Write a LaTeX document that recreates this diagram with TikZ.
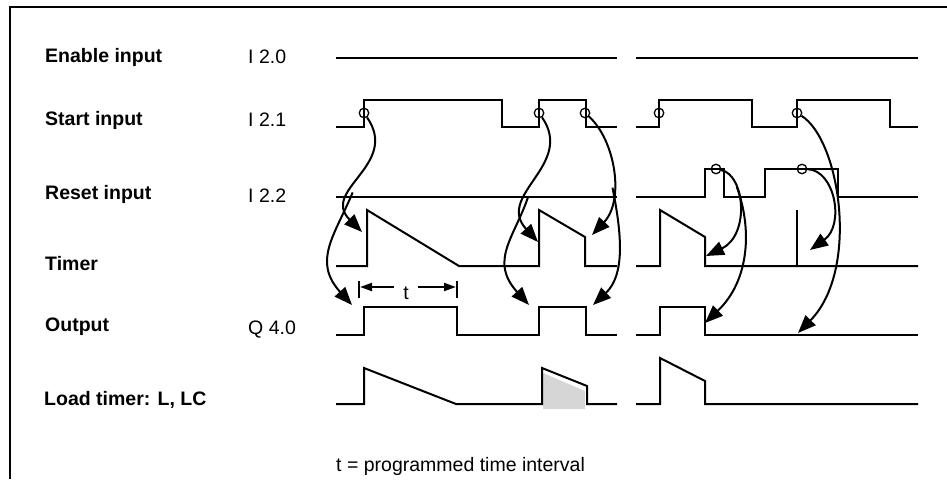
\documentclass[tikz,border=0pt]{standalone}
\usepackage{fontspec}
\setmainfont{Liberation Sans}
\usepackage{tikz}
\usetikzlibrary{arrows.meta}
\definecolor{TDink}{HTML}{000000}
\definecolor{TDshade}{HTML}{D6D6D6}
\tikzset{
  tdlabel/.style={anchor=west, inner sep=0pt, text=TDink,
    font=\fontsize{19.5}{23}\selectfont\bfseries},
  tdaddr/.style={anchor=west, inner sep=0pt, text=TDink,
    font=\fontsize{19.5}{23}\selectfont},
  tdwave/.style={draw=TDink, line width=2pt, line join=miter},
  tdedge/.style={circle, draw=TDink, line width=1.3pt, inner sep=0pt, minimum size=9.5pt},
  tdarr/.style={-{Triangle[length=18pt,width=14pt]}, line width=2pt, draw=TDink},
  tddim/.style={-{Triangle[length=12pt,width=8pt]}, line width=2pt, draw=TDink},
}

\begin{document}
\begin{tikzpicture}[x=1pt, y=-1pt]
  \useasboundingbox (0,0) rectangle (947,479);
  \draw[line width=1.6pt] (10,479) -- (10,7) -- (947,7);

  \node[tdlabel] (en) at (45,57) {Enable input};
  \node[tdlabel] (st) at (45,120) {Start input};
  \node[tdlabel] (rs) at (45,194) {Reset input};
  \node[tdlabel] (tm) at (45,264) {Timer};
  \node[tdlabel] (ou) at (45,327) {Output};
  \node[tdlabel] (ld) at (44,400) {Load timer: L, LC};
  \node[tdaddr] (enA) at (248,57) {I 2.0};
  \node[tdaddr] (stA) at (248,120) {I 2.1};
  \node[tdaddr] (rsA) at (248,196) {I 2.2};
  \node[tdaddr] (ouA) at (248,330) {Q 4.0};
  \node[tdaddr] (note) at (336,466) {t = programmed time interval};

  % signals
  \draw[tdwave] (336,58) -- (617,58);
  \draw[tdwave] (636,58) -- (918,58);
  \draw[tdwave] (336,127) -| (364,100) -| (502,127) -| (539,100) -| (586,127) -- (617,127);
  \draw[tdwave] (636,127) -| (659,100) -| (752,127) -| (797,100) -| (890,127) -- (918,127);
  \draw[tdwave] (336,197) -- (617,197);
  \draw[tdwave] (636,197) -| (705,169) -| (724,197) -| (765,169) -| (838,197) -- (918,197);
  \draw[tdwave] (336,266) -| (367,210) -- (459,266) -| (539,210) -- (585,237) |- (617,266);
  \draw[tdwave] (636,266) -| (660,210) -- (705,237) |- (918,266);
  \draw[tdwave] (797,210) -- (797,266);
  \draw[tdwave] (336,335) -| (364,307) -| (457,335) -| (539,307) -| (586,335) -- (617,335);
  \draw[tdwave] (636,335) -| (660,307) -| (705,335) -- (918,335);
  \fill[TDshade] (543,373) -- (585,391) -- (585,409) -- (543,409) -- cycle;
  \draw[tdwave] (336,404) -| (364,368) -- (456,404) -| (542,368) -- (587,386) |- (617,404);
  \draw[tdwave] (636,404) -| (660,358) -- (705,381) |- (918,404);

  % interval t
  \draw[tdwave] (359,281) -- (359,298);
  \draw[tdwave] (457,281) -- (457,298);
  \node[tdaddr, anchor=center, minimum width=24pt] (tl) at (406,293) {t};
  \coordinate (tL) at (360,287);
  \coordinate (tR) at (456,287);
  \draw[tddim] (tl.west |- tL) -- (tL);
  \draw[tddim] (tl.east |- tR) -- (tR);

  % edges
  \node[tdedge] (e1) at (364,113) {};
  \node[tdedge] (e2) at (539,113) {};
  \node[tdedge] (e3) at (585,113) {};
  \node[tdedge] (e4) at (659,113) {};
  \node[tdedge] (e5) at (797,113) {};
  \node[tdedge] (r1) at (716,169) {};
  \node[tdedge] (r2) at (802,169) {};

  \coordinate (a1) at (362,232);
  \coordinate (a2) at (352,305);
  \coordinate (b1) at (538,242);
  \coordinate (b2) at (529,305);
  \coordinate (c1) at (592,235);
  \coordinate (c2) at (593,305);
  \coordinate (d1) at (706,256);
  \coordinate (d2) at (705,323);
  \coordinate (f1) at (810,250);
  \coordinate (f2) at (798,333);

  \draw[tdarr] (e1) .. controls (400,165) and (320,190) .. coordinate[pos=0.65] (s1) (a1);
  \draw[tdarr] (s1) .. controls (335,235) and (312,261) .. (a2);
  \draw[tdarr] (e2) .. controls (575,165) and (495,195) .. coordinate[pos=0.65] (s2) (b1);
  \draw[tdarr] (s2) .. controls (514,238) and (489,261) .. (b2);
  \draw[tdarr] (e3) .. controls (615,140) and (625,200) .. coordinate[pos=0.62] (s3) (c1);
  \draw[tdarr] (s3) .. controls (622,235) and (625,275) .. (c2);
  \draw[tdarr] (r1) .. controls (745,175) and (750,235) .. coordinate[pos=0.3] (s4) (d1);
  \draw[tdarr] (s4) .. controls (752,228) and (750,280) .. (d2);
  \draw[tdarr] (r2) .. controls (835,170) and (845,225) .. (f1);
  \draw[tdarr] (e5) .. controls (840,140) and (860,270) .. (f2);
\end{tikzpicture}
\end{document}
